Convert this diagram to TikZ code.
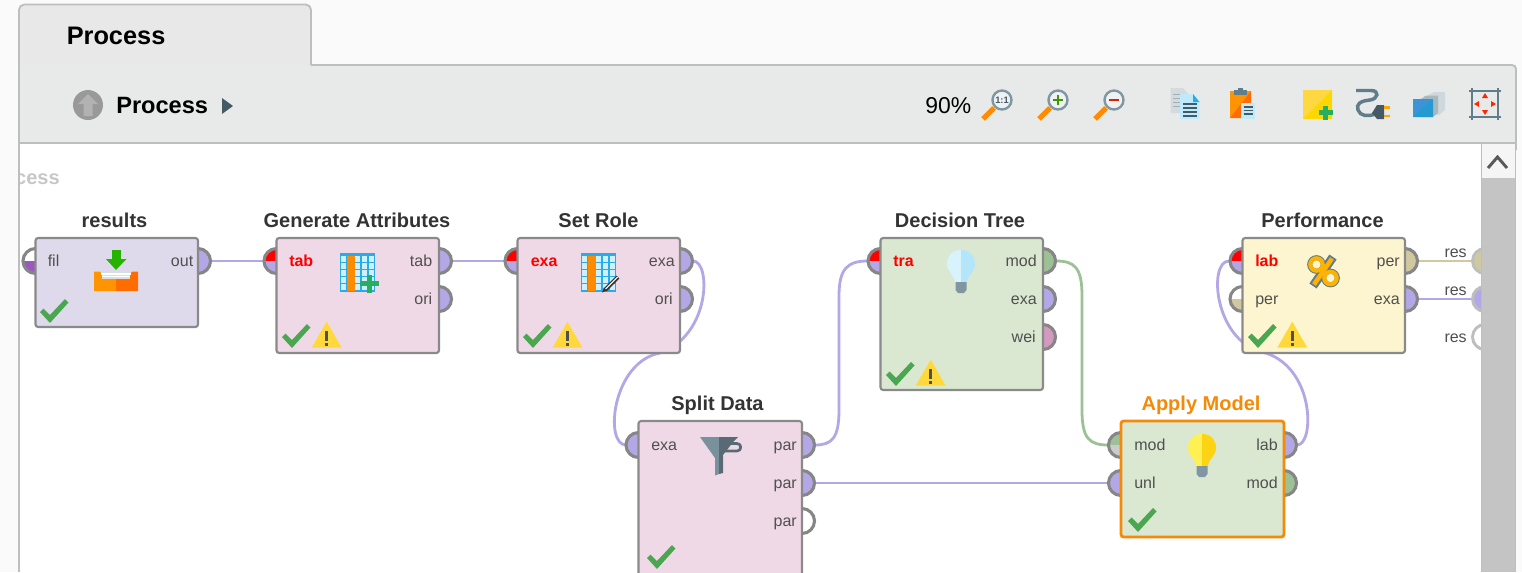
\documentclass[tikz,border=0pt]{standalone}
\usepackage{fontspec}
\setmainfont{Liberation Sans}
\definecolor{wirepurple}{HTML}{B4A7E6}
\definecolor{wiregreen}{HTML}{9DC196}
\definecolor{wiretan}{HTML}{D0C9A0}
\definecolor{portgrey}{HTML}{868686}
\definecolor{panelline}{HTML}{BDBFBE}
\definecolor{toolbar}{HTML}{E8EAE9}
\definecolor{pagebg}{HTML}{FAFAFA}
\definecolor{oppink}{HTML}{F0D9E7}
\definecolor{oplilac}{HTML}{DFDAEB}
\definecolor{opgreen}{HTML}{DAE8D1}
\definecolor{opyellow}{HTML}{FDF5CF}
\definecolor{opborder}{HTML}{8A8A8A}
\definecolor{oporange}{HTML}{F58A07}
\definecolor{titlegrey}{HTML}{333333}
\definecolor{labelgrey}{HTML}{505050}
\definecolor{checkgreen}{HTML}{4AA650}
\definecolor{warnyellow}{HTML}{FFD93B}
\definecolor{steel}{HTML}{607D8B}
\definecolor{steeldark}{HTML}{455A64}
\definecolor{blueicon}{HTML}{29ABE8}
\definecolor{cellblue}{HTML}{CFEFFB}
\definecolor{plusgreen}{HTML}{27AE60}
\definecolor{weipink}{HTML}{D39ABF}
\definecolor{filpurple}{HTML}{9B59C0}
\tikzset{
  opbox/.style={draw=opborder,line width=1.6pt,rounded corners=2pt,inner sep=0pt},
  optitle/.style={font=\fontsize{15}{15}\selectfont\bfseries,text=titlegrey,inner sep=0pt,anchor=base},
  plabel/.style={font=\fontsize{12}{12}\selectfont,text=labelgrey,inner sep=0pt},
  redlabel/.style={font=\fontsize{12}{12}\selectfont\bfseries,text=red,inner sep=0pt,anchor=base west},
  wire/.style={line width=2.1pt},
  portline/.style={draw=portgrey,line width=2.3pt},
  iconline/.style={line cap=butt,line join=miter}
}
\newcommand{\opbox}[7]{\node[opbox,fill=#6,draw=#7,minimum width={(#4-#2)*0.75pt},minimum height={(#5-#3)*0.75pt}] (#1) at ({(#2+#4)/2},{(#3+#5)/2}) {};}
\newcommand{\inport}[4]{%
  \fill[#3] (#1,#2) -- (#1-12.5,#2) arc[start angle=180,end angle=270,radius=12.5] -- cycle;
  \fill[#4] (#1,#2) -- (#1,#2+12.5) arc[start angle=90,end angle=180,radius=12.5] -- cycle;
  \draw[portline] (#1,#2+12.5) arc[start angle=90,end angle=270,radius=12.5];}
\newcommand{\outport}[3]{%
  \fill[#3] (#1,#2-12.5) arc[start angle=270,end angle=450,radius=12.5] -- cycle;
  \draw[portline] (#1,#2-12.5) arc[start angle=270,end angle=450,radius=12.5];}
\newcommand{\rlab}[4]{\node[plabel,anchor=base east] (#1) at (#2,#3+5) {#4};}
\newcommand{\llab}[4]{\node[plabel,anchor=base west] (#1) at (#2,#3+5) {#4};}
\newcommand{\okmark}[2]{\fill[checkgreen] (#1-10,#2-10) -- (#1-6.5,#2-13.5) -- (#1,#2-7) -- (#1+15,#2-23) -- (#1+18.5,#2-19.5) -- (#1,#2+1) -- cycle;}
\newcommand{\warnmark}[2]{%
  \fill[warnyellow] (#1,#2-26) -- (#1+15,#2) -- (#1-15,#2) -- cycle;
  \fill[labelgrey] (#1-1.4,#2-17) rectangle (#1+1.4,#2-7);
  \fill[labelgrey] (#1-1.4,#2-5) rectangle (#1+1.4,#2-2);}
\newcommand{\bulb}[4]{%
  \fill[#3] (#1,#2) .. controls (#1-9,#2) and (#1-14,#2+6) .. (#1-14,#2+14) .. controls (#1-14,#2+22) and (#1-7,#2+24) .. (#1-6,#2+32) -- (#1,#2+32) -- cycle;
  \fill[#4] (#1,#2) .. controls (#1+9,#2) and (#1+14,#2+6) .. (#1+14,#2+14) .. controls (#1+14,#2+22) and (#1+7,#2+24) .. (#1+6,#2+32) -- (#1,#2+32) -- cycle;
  \fill[steel!80] (#1-5.5,#2+32) -- (#1+5.5,#2+32) -- (#1+5.5,#2+40) -- (#1+3,#2+43) -- (#1-3,#2+43) -- (#1-5.5,#2+40) -- cycle;}
\newcommand{\gridicon}[2]{%
  \fill[blueicon] (#1,#2) rectangle (#1+35,#2+39);
  \foreach \cx in {1,8,15,22,29}{\foreach \cy in {3,10,17,24,31}{\fill[cellblue] (#1+\cx,#2+\cy) rectangle (#1+\cx+5.4,#2+\cy+5.6);}}
  \fill[orange!90!yellow] (#1+7,#2+3) rectangle (#1+15,#2+38);}
\newcommand{\lens}[4]{%
  \draw[orange!90!yellow,line width=3.8pt] (#1-19,#2+19) -- (#1-8,#2+8);
  \fill[white!90!steel] (#1,#2) circle[radius=9.5];
  \draw[steel!80,line width=1.8pt] (#1,#2) circle[radius=9.5];}
\begin{document}
\begin{tikzpicture}[x=0.75pt,y=-0.75pt]
\useasboundingbox (0,0) rectangle (1522,572);
\clip (0,0) rectangle (1522,572);
\fill[pagebg] (0,0) rectangle (1522,572);
% window frame and toolbar
\fill[toolbar] (19,65) -- (1516,65) -- (1516,143) -- (19,143) -- cycle;
\draw[panelline,line width=1.4pt,rounded corners=3pt] (311,65) -- (1516,65) -- (1516,150);
\fill[white] (20,143) rectangle (1482,572);
\draw[panelline,line width=1.4pt] (19,65) -- (19,572);
\draw[panelline,line width=1.4pt] (19,143) -- (1516,143);
\draw[panelline,line width=1.4pt] (1515.5,143) -- (1515.5,572);
\path[fill=black!9,draw=panelline,line width=1.4pt,rounded corners=4pt] (19,65) -- (19,4.5) -- (311,4.5) -- (311,65);
\fill[toolbar] (20,65.5) rectangle (310,72);
\node[font=\fontsize{19}{19}\selectfont\bfseries,inner sep=0pt,anchor=base west] (tabtitle) at (66.5,44) {Process};
\fill[black!40] (88,105) circle[radius=15];
\fill[black!30] (88,94) -- (98,104) -- (92.5,104) -- (92.5,116) -- (83.5,116) -- (83.5,104) -- (78,104) -- cycle;
\node[font=\fontsize{17.7}{17.7}\selectfont\bfseries,inner sep=0pt,anchor=base west] (crumb) at (116,113) {Process};
\fill[steeldark] (222,98) -- (233,106) -- (222,114) -- cycle;
\node[font=\fontsize{17.2}{17.2}\selectfont,inner sep=0pt,anchor=base west] (zoompct) at (925,113.5) {90\%};
\lens{1002}{100}{}{}
\node[font=\fontsize{7}{7}\selectfont\bfseries,text=steeldark,inner sep=0pt] (oneone) at (1002,100) {1:1};
\lens{1058}{100}{}{}
\fill[green!45!black!75!yellow] (1053,99) rectangle (1063,101);
\fill[green!45!black!75!yellow] (1057,95) rectangle (1059,105);
\lens{1114}{100}{}{}
\fill[red!70!orange!85!black] (1109,99) rectangle (1119,101);
% documents icon
\fill[black!14!steel!25] (1170.5,88) -- (1183,88) -- (1188,94) -- (1188,113) -- (1170.5,113) -- cycle;
\foreach \ly in {94,98,102,106}{\draw[steel!60,line width=0.7pt] (1173,\ly) -- (1180,\ly);}
\fill[cyan!25] (1180,94) -- (1193,94) -- (1199.5,102) -- (1199.5,119) -- (1180,119) -- cycle;
\fill[blueicon] (1193,94) -- (1199.5,102) -- (1193,102) -- cycle;
\foreach \ly in {104,108,112,116}{\draw[steeldark,line width=0.8pt] (1183,\ly) -- (1197,\ly);}
% clipboard icon
\fill[orange!85!yellow] (1230,91) rectangle (1251,118);
\fill[orange!85!red] (1251,91) -- (1251,118) -- (1230,118) -- cycle;
\fill[steel] (1234,90) rectangle (1247,95);
\fill[steel] (1238,87.5) rectangle (1243,90);
\fill[cyan!25] (1241,103) rectangle (1255,119);
\foreach \ly in {107,110.5,114}{\draw[steeldark,line width=0.8pt] (1243.5,\ly) -- (1253,\ly);}
% note icon
\fill[yellow!65!orange!75] (1303,90) rectangle (1332,119);
\fill[yellow!75!orange] (1332,90) -- (1332,119) -- (1303,119) -- cycle;
\fill[plusgreen] (1323.3,105.5) rectangle (1328.3,120);
\fill[plusgreen] (1318.5,110.3) rectangle (1333,115.3);
% connector icon
\draw[steel,line width=2.6pt] (1356,90.5) -- (1371,90.5) .. controls (1380,90.5) and (1378,99) .. (1370,100) .. controls (1360,101) and (1356,104) .. (1358,110) .. controls (1360,116) and (1368,117) .. (1375,114);
\fill[steeldark] (1372,113) -- (1377,105) -- (1384,105) -- (1384,119) -- (1377,119) -- cycle;
\fill[orange!70!yellow] (1384,106) rectangle (1390,108.5);
\fill[orange!70!yellow] (1384,114.5) rectangle (1390,117);
% layers icon
\fill[steel!30] (1428,95) -- (1434,92) -- (1445,92) -- (1445,110) -- (1439,115) -- (1428,115) -- cycle;
\fill[steel!55] (1421,99) -- (1426,95.5) -- (1438,95.5) -- (1438,113) -- (1433,117) -- (1421,117) -- cycle;
\fill[cyan!65!blue!80] (1413,99) rectangle (1433,117);
\fill[blueicon!90!black] (1433,99) -- (1433,117) -- (1413,117) -- cycle;
% fit icon
\draw[steel,line width=1.7pt] (1469,91) -- (1501,91) (1469,117) -- (1501,117) (1472,88) -- (1472,120) (1498,88) -- (1498,120);
\fill[red!70!orange] (1485,93) -- (1488,98) -- (1482,98) -- cycle;
\fill[red!70!orange] (1485,115) -- (1488,110) -- (1482,110) -- cycle;
\fill[red!70!orange] (1474,104) -- (1479,101) -- (1479,107) -- cycle;
\fill[red!70!orange] (1496,104) -- (1491,101) -- (1491,107) -- cycle;
% canvas
\begin{scope}
\clip (20,144) rectangle (1482,572);
\node[font=\fontsize{15}{15}\selectfont\bfseries,text=black!22,inner sep=0pt,anchor=base east] (ghost) at (60,184) {Process};
% port anchors
\coordinate (rOut) at (211,261);
\coordinate (gIn) at (263,261);
\coordinate (gOut) at (452,261);
\coordinate (sIn) at (505,261);
\coordinate (sOut) at (693,261);
\coordinate (dIn) at (626,445);
\coordinate (dOutA) at (815,445);
\coordinate (dOutB) at (815,483);
\coordinate (tIn) at (868,261);
\coordinate (tOut) at (1056,261);
\coordinate (aMod) at (1108,445);
\coordinate (aUnl) at (1108,483);
\coordinate (aLab) at (1297,445);
\coordinate (pLab) at (1229,261);
\coordinate (pPer) at (1418,261);
\coordinate (pExa) at (1418,299);
\coordinate (resA) at (1473,261);
\coordinate (resB) at (1473,299);
% connectors
\draw[wire,wirepurple] (rOut) -- (gIn);
\draw[wire,wirepurple] (gOut) -- (sIn);
\draw[wire,wirepurple] (sOut) .. controls (711,261) and (711,335) .. (660,353) .. controls (612,362) and (604,445) .. (dIn);
\draw[wire,wirepurple] (dOutA) .. controls (832,445) and (839,438) .. (839,410) -- (839,296) .. controls (839,268) and (848,261) .. (tIn);
\draw[wire,wirepurple] (dOutB) -- (aUnl);
\draw[wire,wiregreen] (tOut) .. controls (1075,261) and (1082,268) .. (1082,296) -- (1082,410) .. controls (1082,438) and (1089,445) .. (aMod);
\draw[wire,wirepurple] (aLab) .. controls (1315,445) and (1315,365) .. (1262,352) .. controls (1214,340) and (1208,261) .. (pLab);
\draw[wire,wiretan] (pPer) -- (resA);
\draw[wire,wirepurple] (pExa) -- (resB);
% results
\inport{35.5}{261}{white}{filpurple}
\outport{198}{261}{wirepurple}
% generate attributes
\inport{276.5}{261}{red}{wirepurple}
\outport{439}{261}{wirepurple}
\outport{439}{299}{wirepurple}
% set role
\inport{517.5}{261}{red}{wirepurple}
\outport{680}{261}{wirepurple}
\outport{680}{299}{wirepurple}
% split data
\inport{638.5}{445}{wirepurple}{wirepurple}
\outport{802}{445}{wirepurple}
\outport{802}{483}{wirepurple}
\outport{802}{521}{white}
% decision tree
\inport{880.5}{261}{red}{wirepurple}
\outport{1043}{261}{wiregreen}
\outport{1043}{299}{wirepurple}
\outport{1043}{337}{weipink}
% apply model
\inport{1121}{445}{wiregreen}{black!20}
\inport{1121}{483}{wirepurple}{wirepurple}
\outport{1284}{445}{wirepurple}
\outport{1284}{483}{wiregreen}
% performance
\inport{1242.5}{261}{red}{wirepurple}
\inport{1242.5}{299}{white}{wiretan}
\outport{1405}{261}{wiretan}
\outport{1405}{299}{wirepurple}
% boxes
\opbox{results}{35.5}{238}{198}{327}{oplilac}{opborder}
\opbox{genattr}{276.5}{238}{439}{353}{oppink}{opborder}
\opbox{setrole}{517.5}{238}{680}{353}{oppink}{opborder}
\opbox{split}{638.5}{421}{802}{620}{oppink}{opborder}
\opbox{tree}{880.5}{238}{1043}{390}{opgreen}{opborder}
\node[opbox,fill=opgreen,draw=oporange,line width=2.1pt,minimum width={163*0.75pt},minimum height={116*0.75pt}] (apply) at (1202.5,479) {};
\opbox{perf}{1242.5}{238}{1405}{353}{opyellow}{opborder}
% titles
\node[optitle] (t1) at (114.5,227.2) {results};
\node[optitle] (t2) at (357,227.2) {Generate Attributes};
\node[optitle] (t3) at (598.5,227.2) {Set Role};
\node[optitle] (t4) at (717.5,410.2) {Split Data};
\node[optitle] (t5) at (960,227.2) {Decision Tree};
\node[optitle,text=oporange] (t6) at (1201,410.2) {Apply Model};
\node[optitle] (t7) at (1322.5,227.2) {Performance};
% port labels
\llab{l1}{47.5}{261}{fil}
\rlab{l2}{193.5}{261}{out}
\node[redlabel] (l3) at (289,266) {tab};
\rlab{l4}{432.5}{261}{tab}
\rlab{l5}{432.5}{299}{ori}
\node[redlabel] (l6) at (530.5,266) {exa};
\rlab{l7}{675}{261}{exa}
\rlab{l8}{673}{299}{ori}
\llab{l9}{651}{445}{exa}
\rlab{l10}{797}{445}{par}
\rlab{l11}{797}{483}{par}
\rlab{l12}{797}{521}{par}
\node[redlabel] (l13) at (893,266) {tra};
\rlab{l14}{1037}{261}{mod}
\rlab{l15}{1037}{299}{exa}
\rlab{l16}{1036}{337}{wei}
\llab{l17}{1134}{445}{mod}
\llab{l18}{1134}{483}{unl}
\rlab{l19}{1278}{445}{lab}
\rlab{l20}{1278}{483}{mod}
\node[redlabel] (l21) at (1255,266) {lab};
\llab{l22}{1255}{299}{per}
\rlab{l23}{1400}{261}{per}
\rlab{l24}{1400}{299}{exa}
\rlab{l25}{1467}{252}{res}
\rlab{l26}{1467}{290}{res}
\rlab{l27}{1467}{337}{res}
% process output ports
\draw[panelline,line width=2.2pt,fill=wiretan] (1485,261) circle[radius=12.5];
\draw[panelline,line width=2.2pt,fill=wirepurple] (1485,299) circle[radius=12.5];
\draw[panelline,line width=2.2pt,fill=white] (1485,337) circle[radius=12.5];
% status marks
\okmark{50}{322}
\okmark{292}{347}\warnmark{326.7}{347.7}
\okmark{533}{347}\warnmark{567.5}{347.7}
\okmark{657}{568}
\okmark{896}{385}\warnmark{930.7}{385.7}
\okmark{1138}{531}
\okmark{1258}{347}\warnmark{1292.3}{347.7}
% read icon
\fill[green!65!black!85!yellow] (112,250) rectangle (120.5,259);
\fill[green!65!black!85!yellow] (106,259) -- (126.5,259) -- (116,270) -- cycle;
\fill[orange!85!yellow] (94,271.5) -- (100,271.5) -- (104,278) -- (116,278) -- (116,291) -- (94,291) -- cycle;
\fill[orange!85!red] (138,271.5) -- (132,271.5) -- (128,278) -- (116,278) -- (116,291) -- (138,291) -- cycle;
\fill[steel!25] (102,272) rectangle (130,279);
\draw[white,line width=0.8pt] (101,274) -- (131,274) (102,276.5) -- (130,276.5);
% table icons
\gridicon{340}{253}
\fill[plusgreen] (366.7,274.5) rectangle (372,292.5);
\fill[plusgreen] (360,281) rectangle (378.5,286.3);
\gridicon{581}{253}
\draw[black!80,line width=3pt] (605,290) -- (618,277);
\draw[white,line width=0.8pt] (605,289.5) -- (617.5,277);
\fill[black!80] (602,292.5) -- (604,287.5) -- (607,290.5) -- cycle;
% filter icon
\fill[steel!85] (700,437) -- (719,437) -- (719,474) -- (715,475.5) -- (715,458) -- cycle;
\fill[steeldark!90] (719,437) -- (738,437) -- (734,441) -- (723,455) -- (723,473) -- (719,474) -- cycle;
\draw[steeldark!90,line width=2pt] (731,443.5) -- (737,443.5) .. controls (742,443.5) and (742,451) .. (737,451) -- (725,451);
% bulbs
\bulb{961}{250}{cyan!15!white}{cyan!30!white}
\bulb{1202}{434}{yellow!65!white!95!orange}{yellow!70!orange!95!white}
% percent icon
\draw[steel,line width=3.8pt] (1316.5,264.5) circle[radius=6.8];
\draw[steel,line width=3.8pt] (1330.5,278) circle[radius=6.8];
\draw[steel,line width=6.6pt] (1333,257) -- (1313,286);
\draw[orange!60!yellow,line width=3pt] (1316.5,264.5) circle[radius=6.3];
\draw[orange!60!yellow,line width=3pt] (1330.5,278) circle[radius=6.3];
\draw[orange!60!yellow,line width=3.4pt] (1332,258.5) -- (1314,284.5);
\end{scope}
% scrollbar
\fill[toolbar!50!white] (1482,144) rectangle (1514.5,178);
\fill[black!23] (1482,178) rectangle (1514.5,572);
\draw[panelline,line width=1pt] (1481.7,144) -- (1481.7,572);
\draw[black!65,line width=2.2pt] (1488,168) -- (1497.5,157) -- (1507,168);
\end{tikzpicture}
\end{document}
